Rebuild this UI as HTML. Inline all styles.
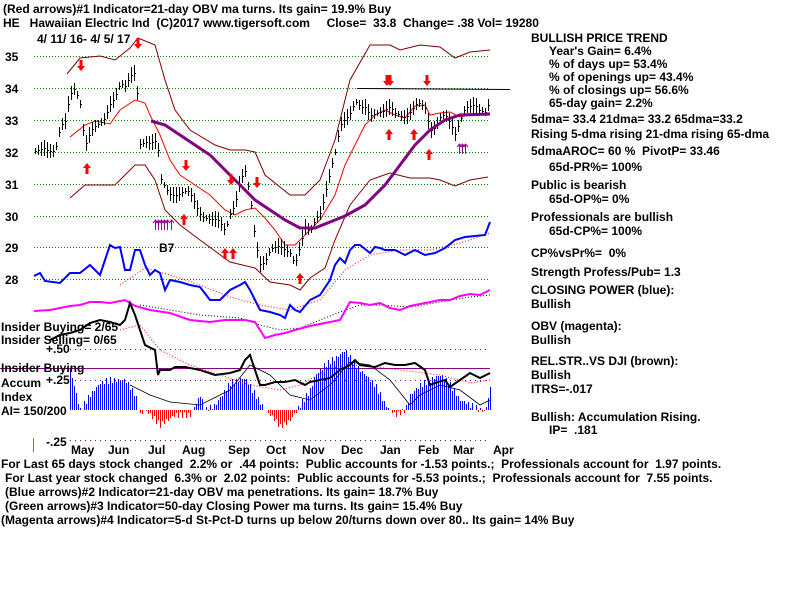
<!DOCTYPE html>
<html><head><meta charset="utf-8"><style>
html,body{margin:0;padding:0;background:#fff;width:800px;height:600px;overflow:hidden}
svg{display:block}
text{font-family:"Liberation Sans",sans-serif;font-weight:bold;font-size:12px;fill:#000;white-space:pre}
</style></head><body>
<svg id="s" width="800" height="600" xmlns="http://www.w3.org/2000/svg">
<g stroke="#080" stroke-dasharray="1,2" stroke-width="1">
<line x1="34" y1="56.5" x2="490" y2="56.5"/><line x1="34" y1="88.5" x2="490" y2="88.5"/>
<line x1="34" y1="120.5" x2="490" y2="120.5"/><line x1="34" y1="152.5" x2="490" y2="152.5"/>
<line x1="34" y1="184.5" x2="490" y2="184.5"/><line x1="34" y1="216.5" x2="490" y2="216.5"/>
<line x1="34" y1="247.5" x2="490" y2="247.5"/><line x1="34" y1="279.5" x2="490" y2="279.5"/>
</g>
<g stroke="#808" stroke-dasharray="1,4"><line x1="70" y1="349.5" x2="490" y2="349.5"/><line x1="70" y1="380.5" x2="490" y2="380.5"/><line x1="70" y1="440.5" x2="490" y2="440.5"/></g>
<line x1="0" y1="368.5" x2="490" y2="368.5" stroke="#808" stroke-width="1"/>
<line x1="357" y1="88.5" x2="510" y2="89.5" stroke="#000"/>
<line x1="33.5" y1="438" x2="33.5" y2="452" stroke="#880"/>
<g id="g"></g>
<g>
<text x="3" y="13">(Red arrows)#1 Indicator=21-day OBV ma turns. Its gain= 19.9% Buy</text>
<text x="3" y="27">HE   Hawaiian Electric Ind  (C)2017 www.tigersoft.com     Close=  33.8  Change= .38 Vol= 19280</text>
<text x="37" y="43">4/ 11/ 16- 4/ 5/ 17</text>
<text x="5" y="61">35</text><text x="5" y="93">34</text><text x="5" y="125">33</text><text x="5" y="157">32</text>
<text x="5" y="189">31</text><text x="5" y="221">30</text><text x="5" y="252">29</text><text x="5" y="284">28</text>
<text x="159" y="252">B7</text>
<text x="1" y="331">Insider Buying= 2/65</text><text x="1" y="344">Insider Selling= 0/65</text>
<text x="46" y="353">+.50</text>
<text x="1" y="372">Insider Buying</text><text x="1" y="387">Accum</text><text x="46" y="384">+.25</text>
<text x="1" y="401">Index</text><text x="1" y="415">AI= 150/200</text>
<text x="46" y="446">-.25</text>
<text x="71" y="454">May</text><text x="108" y="454">Jun</text><text x="148" y="454">Jul</text><text x="182" y="454">Aug</text>
<text x="228" y="454">Sep</text><text x="266" y="454">Oct</text><text x="302" y="454">Nov</text><text x="341" y="454">Dec</text>
<text x="380" y="454">Jan</text><text x="418" y="454">Feb</text><text x="453" y="454">Mar</text><text x="493" y="454">Apr</text>
<text x="1" y="468">For Last 65 days stock changed  2.2% or  .44 points:  Public accounts for -1.53 points.;  Professionals account for  1.97 points.</text>
<text x="5" y="482">For Last year stock changed  6.3% or  2.02 points:  Public accounts for -5.53 points.;  Professionals account for  7.55 points.</text>
<text x="5" y="496">(Blue arrows)#2 Indicator=21-day OBV ma penetrations. Its gain= 18.7% Buy</text>
<text x="5" y="510">(Green arrows)#3 Indicator=50-day Closing Power ma turns. Its gain= 15.4% Buy</text>
<text x="1" y="524">(Magenta arrows)#4 Indicator=5-d St-Pct-D turns up below 20/turns down over 80.. Its gain= 14% Buy</text>
<text x="531" y="42">BULLISH PRICE TREND</text>
<text x="549" y="55">Year's Gain= 6.4%</text>
<text x="549" y="68">% of days up= 53.4%</text>
<text x="549" y="81">% of openings up= 43.4%</text>
<text x="549" y="94">% of closings up= 56.6%</text>
<text x="549" y="107">65-day gain= 2.2%</text>
<text x="531" y="123">5dma= 33.4 21dma= 33.2 65dma=33.2</text>
<text x="531" y="138">Rising 5-dma rising 21-dma rising 65-dma</text>
<text x="531" y="155">5dmaAROC= 60 %  PivotP= 33.46</text>
<text x="549" y="171">65d-PR%= 100%</text>
<text x="531" y="189">Public is bearish</text>
<text x="549" y="203">65d-OP%= 0%</text>
<text x="531" y="221">Professionals are bullish</text>
<text x="549" y="235">65d-CP%= 100%</text>
<text x="531" y="257">CP%vsPr%=  0%</text>
<text x="531" y="276">Strength Profess/Pub= 1.3</text>
<text x="531" y="294">CLOSING POWER (blue):</text>
<text x="531" y="308">Bullish</text>
<text x="531" y="330">OBV (magenta):</text>
<text x="531" y="344">Bullish</text>
<text x="531" y="365">REL.STR..VS DJI (brown):</text>
<text x="531" y="379">Bullish</text>
<text x="531" y="393">ITRS=-.017</text>
<text x="531" y="421">Bullish: Accumulation Rising.</text>
<text x="549" y="434">IP=  .181</text>
</g>
</svg>
<script>
var NS="http://www.w3.org/2000/svg",G=document.getElementById("g");
function P(pts,st,w,da){var e=document.createElementNS(NS,"polyline");e.setAttribute("points",pts.map(function(p){return p.join(",")}).join(" "));e.setAttribute("fill","none");e.setAttribute("stroke",st);e.setAttribute("stroke-width",w);if(da)e.setAttribute("stroke-dasharray",da);G.appendChild(e);}
function L(x1,y1,x2,y2,c,w){var e=document.createElementNS(NS,"line");e.setAttribute("x1",x1);e.setAttribute("y1",y1);e.setAttribute("x2",x2);e.setAttribute("y2",y2);e.setAttribute("stroke",c);e.setAttribute("stroke-width",w||1);e.setAttribute("shape-rendering","crispEdges");G.appendChild(e);}
function interp(pts,x){for(var i=0;i<pts.length-1;i++){if(x>=pts[i][0]&&x<=pts[i+1][0]){var t=(x-pts[i][0])/(pts[i+1][0]-pts[i][0]||1);return pts[i][1]+t*(pts[i+1][1]-pts[i][1]);}}return pts[pts.length-1][1];}
var H=[[70,370],[75,390],[80,410],[90,395],[100,383],[110,380],[125,380],[135,395],[140,415],[145,410],[155,420],[160,425],[175,415],[190,415],[195,405],[200,395],[205,410],[215,405],[230,383],[245,378],[255,395],[265,410],[275,420],[280,427],[290,420],[300,405],[310,390],[315,375],[325,365],[335,358],[345,350],[355,365],[365,375],[375,385],[385,405],[395,415],[405,410],[410,395],[420,385],[430,380],[440,375],[450,385],[460,400],[470,405],[480,410],[485,412],[490,388]];
for(var x=70;x<=490;x+=2){var y=Math.round(interp(H,x)+Math.sin(x*1.7)*3);L(x+0.5,410,x+0.5,y,y<410?"#00f":"#f00",1);}
P([[67,74],[80,58],[100,56],[115,60],[130,48],[138,38],[155,45],[165,80],[175,110],[190,130],[215,145],[230,150],[245,150],[255,152],[265,175],[290,195],[305,195],[320,180],[335,140],[350,80],[370,45],[390,45],[400,50],[420,45],[440,47],[455,58],[470,52],[490,50]],"#800000",1);
P([[70,198],[85,185],[115,185],[135,165],[145,165],[155,180],[165,210],[180,225],[200,240],[230,262],[255,268],[270,282],[290,285],[300,290],[310,278],[325,268],[335,240],[350,205],[370,180],[390,173],[410,178],[430,178],[440,180],[455,186],[470,180],[488,177]],"#800000",1);
P([[70,137],[85,125],[95,121],[110,124],[120,110],[135,100],[145,103],[150,115],[160,135],[170,160],[180,175],[195,185],[210,195],[225,210],[235,215],[245,210],[255,208],[265,218],[275,230],[285,245],[295,245],[305,235],[320,220],[335,195],[345,165],[355,145],[365,125],[375,115],[385,110],[395,115],[405,118],[415,106],[425,105],[430,115],[440,113],[450,112],[460,117],[470,115],[490,113]],"#f00",1);
var C=[[35,155],[45,145],[55,150],[60,130],[65,125],[70,95],[75,85],[80,100],[85,145],[90,135],[95,130],[100,125],[105,115],[110,100],[115,95],[120,85],[125,90],[130,78],[135,70],[138,100],[140,140],[145,140],[150,145],[155,145],[157,140],[160,180],[165,185],[170,190],[180,195],[190,195],[200,210],[210,220],[220,225],[225,230],[230,210],[235,200],[240,180],[245,175],[250,200],[255,240],[260,260],[265,258],[270,250],[280,250],[290,250],[295,260],[300,245],[305,230],[310,235],[315,220],[320,210],[325,190],[330,170],[335,155],[340,130],[345,120],[350,110],[355,97],[360,105],[365,110],[370,120],[375,115],[380,110],[385,105],[390,105],[395,115],[400,120],[405,120],[410,110],[415,100],[420,100],[425,110],[430,135],[435,130],[440,115],[445,110],[450,120],[455,135],[460,125],[465,110],[470,105],[475,100],[480,108],[485,113],[490,105]];
for(var x=35;x<=489;x+=3){var y=Math.round(interp(C,x)+Math.sin(x*2.3)*4);var r=Math.round(3+Math.abs(Math.sin(x*0.9))*5);L(x+0.5,y-r,x+0.5,y+r,"#000",1);L(x,y+0.5,x+2,y+0.5,"#000",1);}
P([[151,121],[165,125],[180,135],[195,145],[210,155],[225,170],[240,185],[255,200],[270,210],[285,220],[300,228],[315,228],[330,222],[345,216],[365,205],[385,185],[400,165],[415,145],[430,130],[445,120],[460,115],[490,114]],"#800080",3);
P([[120,285],[145,268],[170,275],[200,285],[230,297],[260,305],[290,310],[320,300],[345,270],[370,255],[400,250],[430,250],[460,243],[490,233]],"#f00",1,"1,2");
P([[34,276],[40,273],[45,281],[60,283],[70,273],[80,273],[90,265],[100,275],[105,260],[110,245],[115,248],[120,247],[125,270],[130,270],[135,250],[140,250],[145,265],[150,275],[155,270],[160,273],[165,290],[170,280],[180,282],[190,285],[200,287],[210,300],[220,300],[230,290],[240,285],[245,282],[250,290],[255,300],[260,310],[270,312],[280,315],[285,318],[290,305],[295,310],[300,312],[310,300],[320,295],[330,280],[335,265],[340,258],[345,263],[350,250],[355,245],[360,245],[370,253],[375,247],[380,248],[385,250],[395,250],[405,255],[415,250],[425,255],[435,253],[445,248],[455,240],[465,237],[475,236],[485,235],[490,222]],"#00f",2);
P([[140,305],[170,310],[200,315],[240,318],[260,325],[280,330],[300,328],[320,320],[340,312],[360,305],[380,305],[410,307],[440,302],[470,297],[490,295]],"#000",1,"1,2");
P([[34,311],[50,310],[60,308],[70,306],[80,305],[90,302],[100,302],[110,303],[125,300],[135,306],[150,310],[170,313],[190,320],[210,322],[225,320],[245,320],[255,322],[260,330],[265,338],[275,335],[285,333],[295,330],[310,326],[330,322],[340,320],[350,302],[360,303],[370,305],[380,303],[390,308],[400,310],[410,306],[420,304],[430,302],[440,300],[450,300],[460,296],[470,294],[480,295],[490,290]],"#f0f",2);
P([[120,330],[140,325],[160,350],[190,365],[220,375],[250,385],[280,390],[300,385],[330,368],[360,365],[400,370],[440,375],[470,383],[490,380]],"#f00",1,"1,2");
P([[130,385],[150,395],[170,402],[200,405],[230,390],[250,365],[270,375],[290,395],[310,400],[330,385],[350,362],[370,365],[390,380],[410,405],[420,395],[440,385],[460,390],[480,405],[490,400]],"#000",0.8);
P([[50,340],[60,335],[70,333],[80,330],[90,323],[100,320],[110,322],[120,325],[125,320],[130,303],[135,315],[140,330],[145,345],[155,350],[158,375],[160,370],[170,370],[175,367],[185,367],[200,370],[215,375],[230,373],[240,370],[245,360],[250,355],[255,370],[260,385],[265,385],[275,382],[285,382],[295,380],[305,385],[310,382],[320,380],[330,378],[340,370],[350,365],[355,360],[360,365],[375,367],[385,363],[395,365],[405,365],[415,363],[425,370],[430,385],[435,383],[445,380],[450,387],[460,380],[470,373],[480,378],[490,373]],"#000",2);
function A(x,y,up,c){var p=document.createElementNS(NS,"polygon");var pts=up?[[x,y],[x-4,y+5],[x-1.5,y+5],[x-1.5,y+11],[x+1.5,y+11],[x+1.5,y+5],[x+4,y+5]]:[[x,y+11],[x-4,y+6],[x-1.5,y+6],[x-1.5,y],[x+1.5,y],[x+1.5,y+6],[x+4,y+6]];p.setAttribute("points",pts.join(" "));p.setAttribute("fill",c);G.appendChild(p);}
[[81,60],[138,38],[186,160],[231,174],[257,177],[387,75],[390,75],[427,75]].forEach(function(a){A(a[0],a[1],0,"#f00")});
[[87,163],[184,214],[225,248],[233,248],[300,273],[389,129],[414,129],[429,149]].forEach(function(a){A(a[0],a[1],1,"#f00")});
function M(x,y){L(x+0.5,y,x+0.5,y+10,"#909",1);var p=document.createElementNS(NS,"polyline");p.setAttribute("points",(x-2)+","+(y+3)+" "+(x+0.5)+","+y+" "+(x+3)+","+(y+3));p.setAttribute("fill","none");p.setAttribute("stroke","#909");G.appendChild(p);}
[155,158,161,164,167,171,459,462,465].forEach(function(x){M(x,x<300?220:144)});
</script>
</body></html>
